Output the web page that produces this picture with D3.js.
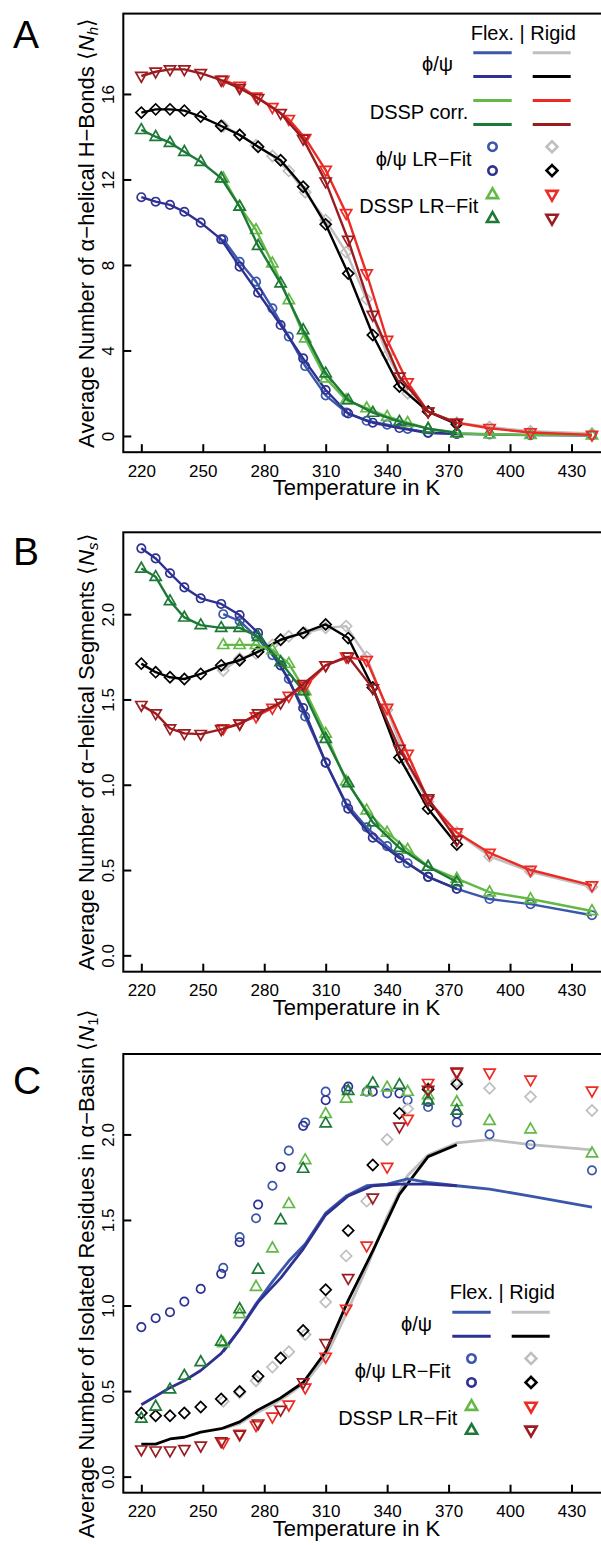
<!DOCTYPE html>
<html>
<head>
<meta charset="utf-8">
<script src="https://cdn.jsdelivr.net/npm/d3@7"></script>
<style>
  body { margin: 0; background: #fff; }
  svg { display: block; font-family: "Liberation Sans", Arial, Helvetica, sans-serif; }
</style>
</head>
<body>
<div id="chart"></div>
<script>
// temperature ladders (K)
const tempsDark = [220, 227, 234, 241, 249, 259, 268, 277, 288, 299, 310, 321, 333, 346, 360, 374];
const tempsLight = [260, 268, 276, 284, 292, 300, 310, 320, 330, 340, 350, 360, 374, 390, 410, 440];
const xTicks = [220, 250, 280, 310, 340, 370, 400, 430];

// A: alpha-helical H-bonds <Nh>
const hbPhiFlexLight = [9.2, 8.15, 7.22, 5.97, 4.65, 3.27, 1.9, 1.1, 0.71, 0.53, 0.33, 0.16, 0.1, 0.07, 0.04, 0.02];
const hbPhiFlexDark = [11.17, 10.96, 10.81, 10.49, 9.98, 9.2, 7.92, 6.7, 5.19, 3.63, 2.15, 1.05, 0.62, 0.37, 0.14, 0.1];
const hbPhiRigidLight = [14.5, 14.1, 13.6, 13.1, 12.4, 11.4, 10.1, 8.6, 6.4, 3.8, 2.0, 1.14, 0.62, 0.42, 0.22, 0.12];
const hbPhiRigidDark = [15.13, 15.28, 15.28, 15.22, 14.94, 14.5, 14.08, 13.53, 12.9, 11.66, 9.9, 7.6, 4.72, 2.31, 1.14, 0.55];
const hbDsspFlexLight = [12.06, 10.73, 9.64, 8.08, 6.36, 4.57, 2.7, 1.68, 1.3, 0.9, 0.62, 0.34, 0.13, 0.08, 0.05, 0.03];
const hbDsspFlexDark = [14.32, 14.0, 13.72, 13.3, 12.83, 12.06, 10.73, 8.9, 7.14, 4.96, 2.93, 1.68, 1.09, 0.67, 0.34, 0.15];
const hbDsspRigidLight = [16.65, 16.37, 15.87, 15.38, 14.82, 13.93, 12.44, 10.42, 7.6, 4.49, 2.5, 1.14, 0.62, 0.36, 0.16, 0.05];
const hbDsspRigidDark = [16.84, 17.04, 17.15, 17.15, 16.97, 16.65, 16.27, 15.8, 15.1, 13.9, 11.9, 9.17, 5.66, 2.77, 1.14, 0.6];
const yTicksA = [0, 4, 8, 12, 16];

// B: alpha-helical segments <Ns>
const segPhiFlexLight = [2.0, 1.96, 1.87, 1.76, 1.62, 1.4, 1.13, 0.89, 0.75, 0.64, 0.54, 0.46, 0.39, 0.33, 0.3, 0.235];
const segPhiFlexDark = [2.386, 2.327, 2.24, 2.157, 2.093, 2.06, 1.995, 1.89, 1.7, 1.45, 1.13, 0.86, 0.69, 0.57, 0.46, 0.39];
const segPhiRigidLight = [1.67, 1.74, 1.77, 1.82, 1.87, 1.89, 1.92, 1.93, 1.75, 1.44, 1.12, 0.9, 0.72, 0.58, 0.49, 0.4];
const segPhiRigidDark = [1.71, 1.66, 1.63, 1.62, 1.65, 1.7, 1.73, 1.78, 1.85, 1.89, 1.94, 1.86, 1.57, 1.16, 0.86, 0.65];
const segDsspFlexLight = [1.82, 1.82, 1.82, 1.79, 1.71, 1.55, 1.3, 1.02, 0.85, 0.72, 0.62, 0.52, 0.45, 0.37, 0.33, 0.26];
const segDsspFlexDark = [2.268, 2.219, 2.077, 1.981, 1.936, 1.92, 1.92, 1.868, 1.72, 1.55, 1.27, 1.01, 0.78, 0.63, 0.52, 0.43];
const segDsspRigidLight = [1.33, 1.36, 1.4, 1.45, 1.52, 1.58, 1.7, 1.75, 1.73, 1.45, 1.18, 0.91, 0.72, 0.6, 0.5, 0.41];
const segDsspRigidDark = [1.467, 1.418, 1.33, 1.301, 1.297, 1.325, 1.356, 1.418, 1.48, 1.59, 1.7, 1.75, 1.565, 1.21, 0.92, 0.676];
const yTicksB = [0, 0.5, 1.0, 1.5, 2.0];

// C: isolated residues in alpha basin <N1>
const isoPhiFlexLight = [0.73, 0.86, 1.01, 1.14, 1.26, 1.36, 1.54, 1.64, 1.7, 1.71, 1.74, 1.72, 1.7, 1.68, 1.64, 1.575];
const isoPhiFlexDark = [0.42, 0.47, 0.52, 0.56, 0.62, 0.72, 0.86, 1.02, 1.16, 1.33, 1.53, 1.64, 1.7, 1.71, 1.71, 1.7];
const isoPhiRigidLight = [0.28, 0.31, 0.37, 0.42, 0.48, 0.55, 0.7, 0.95, 1.22, 1.52, 1.76, 1.88, 1.95, 1.97, 1.94, 1.91];
const isoPhiRigidDark = [0.19, 0.19, 0.22, 0.23, 0.26, 0.28, 0.32, 0.39, 0.46, 0.55, 0.73, 1.03, 1.32, 1.65, 1.87, 1.94];
const isoPhiFitFlexLight = [1.22, 1.4, 1.51, 1.7, 1.905, 2.07, 2.25, 2.26, 2.25, 2.24, 2.2, 2.16, 2.07, 2.0, 1.94, 1.79];
const isoPhiFitFlexDark = [0.874, 0.926, 0.961, 1.023, 1.097, 1.185, 1.37, 1.59, 1.81, 2.05, 2.2, 2.28, 2.25, 2.24, 2.19, 2.12];
const isoPhiFitRigidLight = [0.44, 0.49, 0.56, 0.64, 0.73, 0.83, 1.02, 1.29, 1.61, 1.97, 2.15, 2.27, 2.31, 2.27, 2.22, 2.14];
const isoPhiFitRigidDark = [0.372, 0.356, 0.356, 0.372, 0.407, 0.454, 0.498, 0.586, 0.693, 0.854, 1.092, 1.438, 1.821, 2.123, 2.263, 2.294];
const isoDsspFitFlexLight = [0.78, 0.95, 1.11, 1.335, 1.594, 1.85, 2.12, 2.21, 2.25, 2.275, 2.25, 2.23, 2.19, 2.08, 2.03, 1.89];
const isoDsspFitFlexDark = [0.34, 0.41, 0.51, 0.59, 0.67, 0.79, 0.98, 1.21, 1.5, 1.8, 2.065, 2.255, 2.3, 2.29, 2.2, 2.14];
const isoDsspFitRigidLight = [0.2, 0.25, 0.3, 0.35, 0.42, 0.52, 0.7, 0.98, 1.35, 1.81, 2.09, 2.3, 2.36, 2.36, 2.32, 2.255];
const isoDsspFitRigidDark = [0.158, 0.152, 0.152, 0.16, 0.18, 0.206, 0.245, 0.31, 0.39, 0.55, 0.78, 1.16, 1.63, 2.045, 2.26, 2.366];
const yTicksC = [0, 0.5, 1.0, 1.5, 2.0];

const col = {
  lightBlue: "#3b57aa", darkBlue: "#2e3192",
  gray: "#bfbfbf", black: "#000000",
  lightGreen: "#62b946", darkGreen: "#1d7a36",
  red: "#ee2a24", darkRed: "#9b1c20"
};
const phiPsi = "\u03D5/\u03C8";

const width = 601, height = 1545;
const svg = d3.select("#chart").append("svg")
  .attr("width", width).attr("height", height);

const x = d3.scaleLinear().domain([211.2, 448.8]).range([123.3, 610]);

// marker shapes
const circlePath = d3.symbol().type(d3.symbolCircle).size(Math.PI * 4.2 * 4.2)();
const diamondPath = d3.symbol().type(d3.symbolSquare).size(60)();
const triUp = "M0,-6.2L5.6,3.6L-5.6,3.6Z";
const triDown = "M0,6.2L5.6,-3.6L-5.6,-3.6Z";
function markerPath(m) {
  return m === "circle" ? circlePath : m === "diamond" ? diamondPath : m === "up" ? triUp : triDown;
}
function markerRot(m) { return m === "diamond" ? " rotate(45)" : ""; }

function drawPanel(p) {
  const y = d3.scaleLinear().domain(p.domain).range([p.bottom, p.top]);
  const g = svg.append("g");

  // x axis, ticks inward
  g.append("g")
    .attr("transform", `translate(0,${p.bottom})`)
    .call(d3.axisBottom(x).tickValues(xTicks).tickSizeInner(-8).tickSizeOuter(0).tickPadding(12.5))
    .call(a => a.select(".domain").remove())
    .call(a => a.selectAll("line").attr("stroke", "#000").attr("stroke-width", 2))
    .call(a => a.selectAll("text").attr("font-size", 17).attr("fill", "#000")
      .attr("font-family", "Liberation Sans, Arial, sans-serif"));

  // y axis with rotated labels
  g.append("g")
    .attr("transform", `translate(${x.range()[0]},0)`)
    .call(d3.axisLeft(y).tickValues(p.yTicks).tickFormat(p.fmt).tickSizeInner(-8).tickSizeOuter(0))
    .call(a => a.select(".domain").remove())
    .call(a => a.selectAll("line").attr("stroke", "#000").attr("stroke-width", 2))
    .call(a => a.selectAll("text").attr("font-size", 17).attr("fill", "#000")
      .attr("font-family", "Liberation Sans, Arial, sans-serif")
      .attr("transform", "rotate(-90)").attr("x", 0).attr("y", -9).attr("dy", 0)
      .attr("text-anchor", "middle"));

  // frame
  g.append("rect")
    .attr("x", x.range()[0]).attr("y", p.top)
    .attr("width", x.range()[1] - x.range()[0]).attr("height", p.bottom - p.top)
    .attr("fill", "none").attr("stroke", "#000").attr("stroke-width", 2);

  const line = d3.line().x(d => x(d[0])).y(d => y(d[1]));
  p.lines.forEach(s => {
    g.append("path")
      .datum(d3.zip(s.t, s.v))
      .attr("d", line)
      .attr("fill", "none").attr("stroke", s.c)
      .attr("stroke-width", p.lineWidth).attr("stroke-linejoin", "round");
    if (s.m) drawMarkers(g, y, s.t, s.v, s.c, s.m);
  });
  p.markers.forEach(s => drawMarkers(g, y, s.t, s.v, s.c, s.m));

  // axis titles
  g.append("text")
    .attr("x", (x(220) + x(430)) / 2).attr("y", p.bottom + 43)
    .attr("text-anchor", "middle").attr("font-size", 22)
    .text("Temperature in K");

  const yt = g.append("text")
    .attr("transform", `translate(94,${(p.top + p.bottom) / 2}) rotate(-90)`)
    .attr("text-anchor", "middle").attr("font-size", 22);
  yt.append("tspan").text(p.ylabel + " \u27E8");
  yt.append("tspan").attr("font-style", "italic").text("N");
  yt.append("tspan").attr("font-size", 15).attr("dy", 4)
    .attr("font-style", p.subItalic ? "italic" : "normal").text(p.sub);
  yt.append("tspan").attr("dy", -4).text("\u27E9");

  // panel letter
  svg.append("text").attr("x", 13).attr("y", p.letterY)
    .attr("font-size", 39).text(p.letter);
}

function drawMarkers(g, y, t, v, c, m) {
  g.append("g").selectAll("path")
    .data(d3.zip(t, v))
    .join("path")
    .attr("d", markerPath(m))
    .attr("transform", d => `translate(${x(d[0])},${y(d[1])})${markerRot(m)}`)
    .attr("fill", "none").attr("stroke", c).attr("stroke-width", 1.7);
}

function drawLegend(top, shift, withCorr) {
  const g = svg.append("g").attr("font-size", 20);
  const lx = [473.3 + shift, 511.7 + shift, 532.7 + shift, 570.7 + shift];
  const mx = [492.5 + shift, 552 + shift];
  const labelX = 470 + shift;
  g.append("text").attr("x", 523.3 + shift).attr("y", top - 13.2)
    .attr("text-anchor", "middle").text("Flex. | Rigid");
  const rowsLines = withCorr
    ? [[col.lightBlue, col.gray], [col.darkBlue, col.black], [col.lightGreen, col.red], [col.darkGreen, col.darkRed]]
    : [[col.lightBlue, col.gray], [col.darkBlue, col.black]];
  rowsLines.forEach((r, i) => {
    const yy = top + i * 23.9;
    g.append("line").attr("x1", lx[0]).attr("x2", lx[1]).attr("y1", yy).attr("y2", yy)
      .attr("stroke", r[0]).attr("stroke-width", 3);
    g.append("line").attr("x1", lx[2]).attr("x2", lx[3]).attr("y1", yy).attr("y2", yy)
      .attr("stroke", r[1]).attr("stroke-width", 3);
  });
  g.append("text").attr("x", labelX - 17).attr("y", top + 18.5)
    .attr("text-anchor", "end").text(phiPsi);
  if (withCorr) {
    g.append("text").attr("x", labelX - 1.7).attr("y", top + 66.3)
      .attr("text-anchor", "end").text("DSSP corr.");
  }
  const mTop = top + rowsLines.length * 23.9 - 1.6;
  const rowsMarks = [
    [["circle", col.lightBlue], ["diamond", col.gray]],
    [["circle", col.darkBlue], ["diamond", col.black]],
    [["up", col.lightGreen], ["down", col.red]],
    [["up", col.darkGreen], ["down", col.darkRed]]
  ];
  rowsMarks.forEach((r, i) => {
    const yy = mTop + i * 23.9;
    r.forEach((mk, j) => {
      g.append("path").attr("d", markerPath(mk[0]))
        .attr("transform", `translate(${mx[j]},${yy})${markerRot(mk[0])}`)
        .attr("fill", "none").attr("stroke", mk[1]).attr("stroke-width", 2.6);
    });
  });
  g.append("text").attr("x", labelX + 1.7).attr("y", mTop + 19.3)
    .attr("text-anchor", "end").text(phiPsi + " LR\u2212Fit");
  g.append("text").attr("x", labelX + 8.3).attr("y", mTop + 66.3)
    .attr("text-anchor", "end").text("DSSP LR\u2212Fit");
}

const f0 = d3.format("d"), f1 = d3.format(".1f");

drawPanel({
  letter: "A", letterY: 48, top: 13.6, bottom: 452.2, domain: [-0.76, 19.76],
  yTicks: yTicksA, fmt: f0, lineWidth: 2.4,
  ylabel: "Average Number of \u03B1\u2212helical H\u2212Bonds", sub: "h", subItalic: true,
  lines: [
    { t: tempsLight, v: hbPhiRigidLight, c: col.gray, m: "diamond" },
    { t: tempsDark, v: hbPhiRigidDark, c: col.black, m: "diamond" },
    { t: tempsLight, v: hbPhiFlexLight, c: col.lightBlue, m: "circle" },
    { t: tempsDark, v: hbPhiFlexDark, c: col.darkBlue, m: "circle" },
    { t: tempsLight, v: hbDsspFlexLight, c: col.lightGreen, m: "up" },
    { t: tempsDark, v: hbDsspFlexDark, c: col.darkGreen, m: "up" },
    { t: tempsLight, v: hbDsspRigidLight, c: col.red, m: "down" },
    { t: tempsDark, v: hbDsspRigidDark, c: col.darkRed, m: "down" }
  ],
  markers: []
});

drawPanel({
  letter: "B", letterY: 565, top: 532.3, bottom: 971.7, domain: [-0.096, 2.48],
  yTicks: yTicksB, fmt: f1, lineWidth: 2.4,
  ylabel: "Average Number of \u03B1\u2212helical Segments", sub: "s", subItalic: true,
  lines: [
    { t: tempsLight, v: segPhiRigidLight, c: col.gray, m: "diamond" },
    { t: tempsDark, v: segPhiRigidDark, c: col.black, m: "diamond" },
    { t: tempsLight, v: segPhiFlexLight, c: col.lightBlue, m: "circle" },
    { t: tempsDark, v: segPhiFlexDark, c: col.darkBlue, m: "circle" },
    { t: tempsLight, v: segDsspFlexLight, c: col.lightGreen, m: "up" },
    { t: tempsDark, v: segDsspFlexDark, c: col.darkGreen, m: "up" },
    { t: tempsLight, v: segDsspRigidLight, c: col.red, m: "down" },
    { t: tempsDark, v: segDsspRigidDark, c: col.darkRed, m: "down" }
  ],
  markers: []
});

drawPanel({
  letter: "C", letterY: 1094, top: 1054, bottom: 1492.7, domain: [-0.094, 2.47],
  yTicks: yTicksC, fmt: f1, lineWidth: 2.8,
  ylabel: "Average Number of Isolated Residues in \u03B1\u2212Basin", sub: "1", subItalic: false,
  lines: [
    { t: tempsLight, v: isoPhiRigidLight, c: col.gray },
    { t: tempsDark, v: isoPhiRigidDark, c: col.black },
    { t: tempsLight, v: isoPhiFlexLight, c: col.lightBlue },
    { t: tempsDark, v: isoPhiFlexDark, c: col.darkBlue }
  ],
  markers: [
    { t: tempsLight, v: isoPhiFitFlexLight, c: col.lightBlue, m: "circle" },
    { t: tempsDark, v: isoPhiFitFlexDark, c: col.darkBlue, m: "circle" },
    { t: tempsLight, v: isoPhiFitRigidLight, c: col.gray, m: "diamond" },
    { t: tempsDark, v: isoPhiFitRigidDark, c: col.black, m: "diamond" },
    { t: tempsLight, v: isoDsspFitFlexLight, c: col.lightGreen, m: "up" },
    { t: tempsDark, v: isoDsspFitFlexDark, c: col.darkGreen, m: "up" },
    { t: tempsLight, v: isoDsspFitRigidLight, c: col.red, m: "down" },
    { t: tempsDark, v: isoDsspFitRigidDark, c: col.darkRed, m: "down" }
  ]
});

drawLegend(52.7, 0, true);
drawLegend(1312.3, -21, false);
</script>
</body>
</html>
